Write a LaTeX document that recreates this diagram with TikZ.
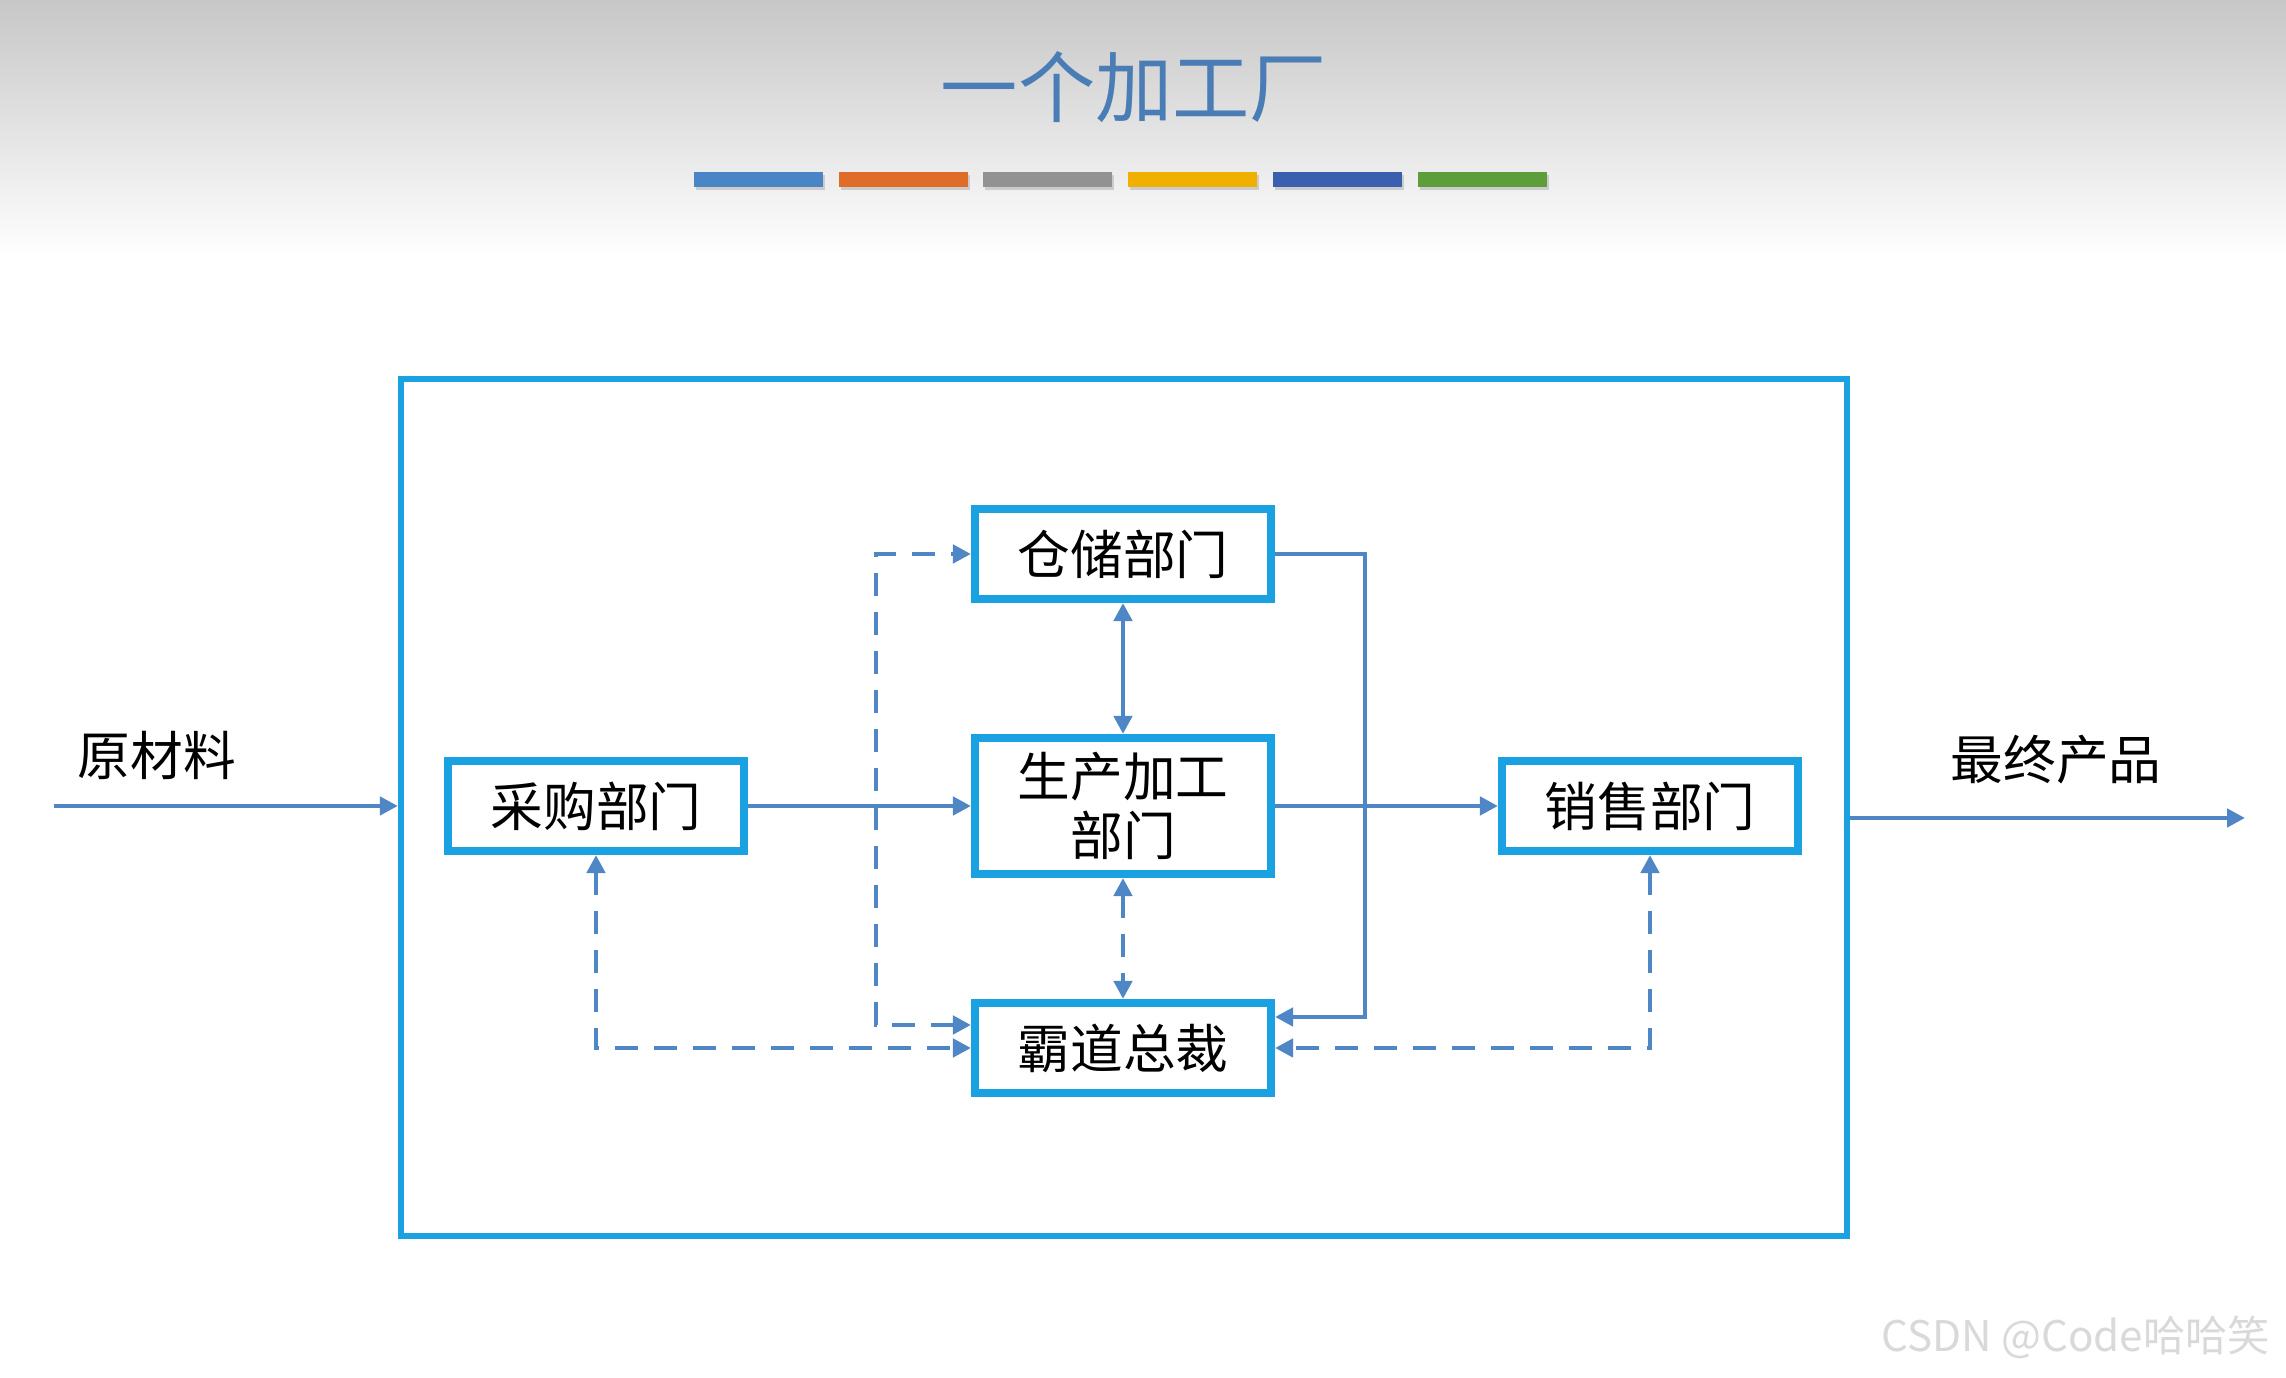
\documentclass[tikz,border=0pt]{standalone}
\usepackage{fontspec}
\usepackage{tikz}
\usetikzlibrary{arrows.meta,calc}
\newfontfamily\cjk{Noto Sans CJK SC}
\definecolor{boxblue}{RGB}{26,161,226}
\definecolor{flowblue}{RGB}{79,134,198}
\definecolor{titleblue}{RGB}{74,125,181}
\definecolor{barblue}{RGB}{74,134,197}
\definecolor{barorange}{RGB}{224,108,42}
\definecolor{bargray}{RGB}{146,146,146}
\definecolor{baryellow}{RGB}{240,176,0}
\definecolor{bardark}{RGB}{58,95,174}
\definecolor{bargreen}{RGB}{94,158,58}

\begin{document}
\begin{tikzpicture}[
  dept/.style={draw=boxblue, line width=2.3pt, fill=white, minimum width=2.96cm, minimum height=0.9cm,
    font=\cjk\fontsize{15}{17}\selectfont, align=center},
  flow/.style={flowblue, line width=1.3pt, -{Triangle[length=1.8mm,width=1.8mm]}},
  twoway/.style={flow, {Triangle[length=1.8mm,width=1.8mm]}-{Triangle[length=1.8mm,width=1.8mm]}},
  dashway/.style={twoway, dash pattern=on 6.5pt off 4.6pt},
  lbl/.style={font=\cjk\fontsize{15}{17}\selectfont}
]
  \useasboundingbox (0,0) rectangle (22.86,13.78);
  % --- slide background and title
  \fill[white] (0,0) rectangle (22.86,13.78);
  \shade[top color=black!22, bottom color=white] (0,11.2) rectangle (22.86,13.78);
  \node[font=\cjk\fontsize{22}{26}\selectfont, text=titleblue] (title) at (11.34,12.91) {一个加工厂};
  \foreach \c [count=\i from 0] in {barblue,barorange,bargray,baryellow,bardark,bargreen} {
    \fill[black!20] ({6.96+1.447*\i},11.88) rectangle ++(1.29,0.15);
    \fill[\c] ({6.94+1.447*\i},11.91) rectangle ++(1.29,0.15);
  }
  % --- the plant
  \node[draw=boxblue, line width=1.8pt, minimum width=14.46cm, minimum height=8.57cm] (plant) at (11.24,5.705) {};
  \node[dept] (caigou) at (5.96,5.72) {采购部门};
  \node[dept] (cangchu) at (11.23,8.24) {仓储部门};
  \node[dept, minimum height=1.36cm] (shengchan) at (11.23,5.72) {生产加工\\部门};
  \node[dept] (zongcai) at (11.23,3.30) {霸道总裁};
  \node[dept] (xiaoshou) at (16.50,5.72) {销售部门};
  % --- in and out
  \coordinate (rawin) at (0.54,5.72);
  \coordinate (prodout) at (22.45,5.60);
  \draw[flow] (rawin) -- (rawin -| plant.west);
  \draw[flow] (prodout -| plant.east) -- (prodout);
  \node[lbl] (raw) at (1.57,6.23) {原材料};
  \node[lbl] (final) at (20.56,6.18) {最终产品};
  % --- flows between departments
  \draw[flow] (caigou) -- (shengchan);
  \draw[flow] (shengchan) -- (xiaoshou);
  \draw[twoway] (cangchu) -- (shengchan);
  \draw[dashway] (shengchan) -- (zongcai);
  \draw[flow] (cangchu.east) -- ++(0.9,0) |- ([yshift=0.31cm]zongcai.east);
  \draw[dashway] ([yshift=0.23cm]zongcai.west) -- ++(-0.95,0) |- (cangchu.west);
  \draw[dashway] (caigou.south) |- (zongcai.west);
  \draw[dashway] (xiaoshou.south) |- (zongcai.east);
  % --- watermark
  \node[font=\cjk\fontsize{12}{14}\selectfont, text=black!15, anchor=east] (mark) at (22.82,0.41) {CSDN @Code哈哈笑};
\end{tikzpicture}
\end{document}
